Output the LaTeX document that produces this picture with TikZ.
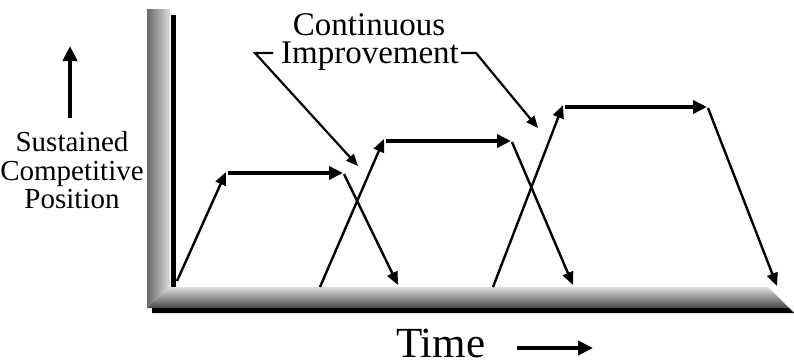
\documentclass[tikz,border=0pt]{standalone}
\usepackage{fontspec}
\setmainfont{Liberation Serif}
\usetikzlibrary{arrows.meta}
\definecolor{barlight}{RGB}{222,222,224}
\definecolor{bardark}{RGB}{70,70,72}
\definecolor{vbardark}{RGB}{105,105,108}
\tikzset{
  flow/.style={line width=2.4pt,-{Triangle[length=13pt,width=11pt]}},
  level/.style={line width=4pt,-{Triangle[length=14pt,width=13pt]}},
  callout/.style={line width=2.2pt,-{Triangle[length=12pt,width=10pt]}},
  bigarrow/.style={line width=4pt,-{Triangle[length=15pt,width=14pt]}},
  lbl/.style={inner sep=0pt,anchor=base},
}
\begin{document}
\begin{tikzpicture}[x=1pt,y=-1pt]
\useasboundingbox (0,0) rectangle (794,362);
% axes bars
\shade[left color=vbardark,right color=barlight] (147,9) -- (170,9) -- (170,287) -- (147,308) -- cycle;
\shade[top color=barlight,bottom color=bardark] (147,308) -- (170,287) -- (768,287) -- (789,308) -- cycle;
\fill[black] (152,308) -- (789,308) -- (794,313) -- (152,313) -- cycle;
\fill[black] (171,15) rectangle (176,287);
% coordinates of the curves
\coordinate (a0) at (177,281);
\coordinate (a1) at (226,172);
\coordinate (a1h) at (228,173);
\coordinate (a2) at (343,173);
\coordinate (a2d) at (344,174);
\coordinate (a3) at (398,285);
\coordinate (b0) at (320,287);
\coordinate (b1) at (384,139);
\coordinate (b1h) at (386,141);
\coordinate (b2) at (511,141);
\coordinate (b2d) at (512,142);
\coordinate (b3) at (573,285);
\coordinate (c0) at (493,287);
\coordinate (c1) at (563,105);
\coordinate (c1h) at (565,107);
\coordinate (c2) at (707,107);
\coordinate (c2d) at (708,108);
\coordinate (c3) at (777,286);
\draw[flow] (a0) -- (a1);
\draw[level] (a1h) -- (a2);
\draw[flow] (a2d) -- (a3);
\draw[flow] (b0) -- (b1);
\draw[level] (b1h) -- (b2);
\draw[flow] (b2d) -- (b3);
\draw[flow] (c0) -- (c1);
\draw[level] (c1h) -- (c2);
\draw[flow] (c2d) -- (c3);
% labels
\node[lbl,text depth=0pt,font=\fontsize{33}{33}\selectfont] (cont) at (369,35) {Continuous};
\node[lbl,text height=21pt,font=\fontsize{33}{33}\selectfont] (impr) at (370,63) {Improvement};
\coordinate (l0) at (273,53);
\coordinate (l1) at (255,53);
\coordinate (l2) at (358,166);
\coordinate (r0) at (461,53);
\coordinate (r1) at (476,53);
\coordinate (r2) at (538,128);
\draw[callout] (l0) -- (l1) -- (l2);
\draw[callout] (r0) -- (r1) -- (r2);
\node[lbl,font=\fontsize{29}{29}\selectfont] (s1) at (72,151) {Sustained};
\node[lbl,font=\fontsize{29}{29}\selectfont] (s2) at (72,180) {Competitive};
\node[lbl,font=\fontsize{29}{29}\selectfont] (s3) at (72,208) {Position};
\coordinate (up0) at (70,118);
\coordinate (up1) at (70,46);
\draw[bigarrow] (up0) -- (up1);
\node[lbl,anchor=base west,text depth=0pt,font=\fontsize{43}{43}\selectfont] (time) at (396,357) {Time};
\coordinate (t0) at (517,348);
\coordinate (t1) at (593,348);
\draw[bigarrow] (t0) -- (t1);
\end{tikzpicture}
\end{document}
